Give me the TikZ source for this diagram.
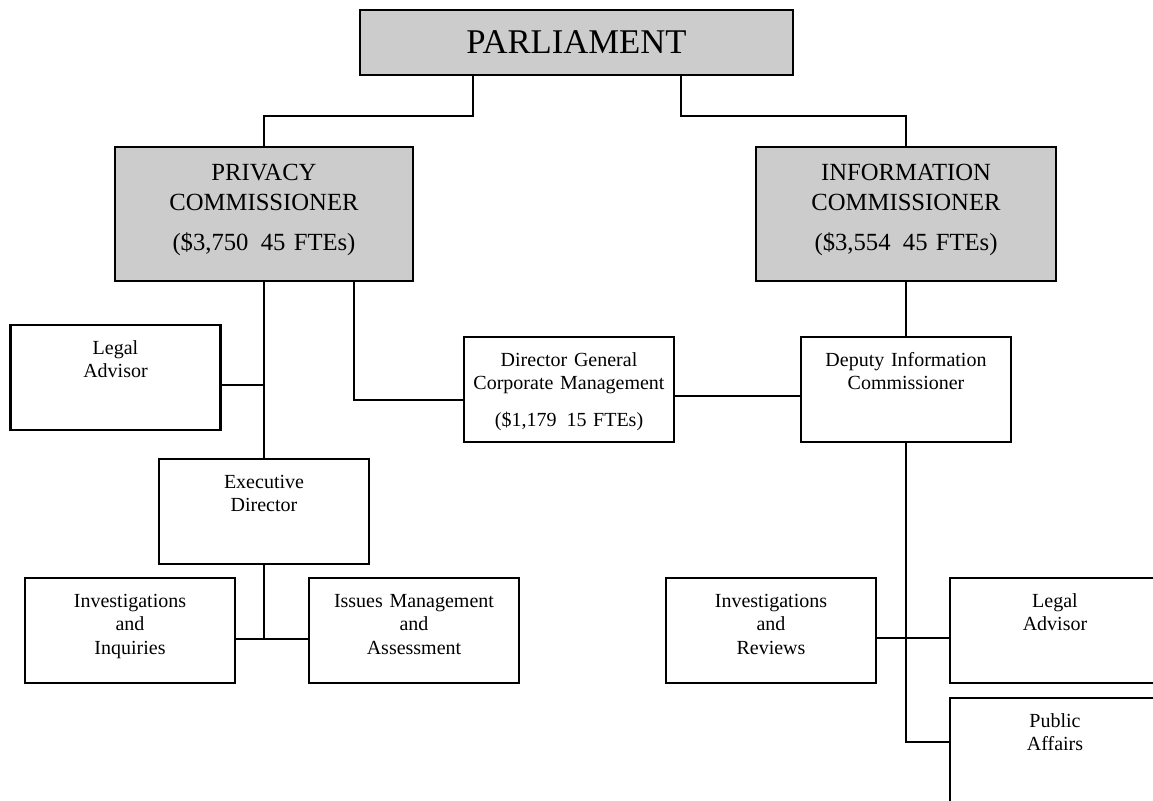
\documentclass[tikz,border=0pt]{standalone}
\usepackage{fontspec}
\setmainfont{Liberation Serif}
\begin{document}
\begin{tikzpicture}[x=0.75pt,y=-0.75pt,line join=miter,
  headbox/.style={draw,fill=black!20,line width=1.6pt,inner sep=0pt,text width=#1,align=center,
    font=\fontsize{18.5}{22.5}\selectfont,text height=24.75pt,text depth=75.75pt},
  officebox/.style={draw,line width=1.6pt,inner sep=0pt,text width=157.5pt,align=center,
    font=\fontsize{15}{17.6}\selectfont,text height=22pt,text depth=56.75pt},
  orgline/.style={line width=1.4pt}]
\useasboundingbox (0,0) rectangle (1153,800);
% top level
\node[draw,fill=black!20,line width=1.6pt,inner sep=0pt,minimum width=324.75pt,minimum height=48.75pt,
  font=\fontsize{26}{30}\selectfont] (parl) at (576.5,42.5) {PARLIAMENT};
\node[headbox=223.5pt] (priv) at (264,214) {PRIVACY\\COMMISSIONER\\[7.5pt](\$3,750\hspace{0.5em}45 FTEs)};
\node[headbox=225pt] (info) at (906,214) {INFORMATION\\COMMISSIONER\\[7.5pt](\$3,554\hspace{0.5em}45 FTEs)};
% privacy side
\node[officebox] (legL) at (115.5,377.5) {Legal\\Advisor};
\node[officebox] (exec) at (264,511.5) {Executive\\Director};
\node[officebox] (invI) at (130,630.5) {Investigations\\and\\Inquiries};
\node[officebox] (issues) at (414,630.5) {Issues Management\\and\\Assessment};
% shared and information side
\node[officebox] (dg) at (569,389.5) {Director General\\Corporate Management\\[10pt](\$1,179\hspace{0.5em}15 FTEs)};
\node[officebox] (dep) at (906,389.5) {Deputy Information\\Commissioner};
\node[officebox] (invR) at (771,630.5) {Investigations\\and\\Reviews};
\node[officebox] (legR) at (1055,630.5) {Legal\\Advisor};
\node[officebox] (pub) at (1055,750.5) {Public\\Affairs};
% connectors
\coordinate (parlL) at (473,75);
\coordinate (parlR) at (681,75);
\draw[orgline] (parlL) -- ++(0,41) -| (priv.north);
\draw[orgline] (parlR) -- ++(0,41) -| (info.north);
\draw[orgline] (priv.south) -- (exec.north);
\draw[orgline] (legL.east |- 0,385) -- (priv.south |- 0,385);
\draw[orgline] (priv.south -| 354,0) |- (dg.west |- 0,400);
\draw[orgline] (dg.east |- 0,396) -- (dep.west |- 0,396);
\draw[orgline] (info.south) -- (dep.north);
\draw[orgline] (exec.south) -- (exec.south |- 0,639);
\draw[orgline] (invI.east |- 0,639) -- (issues.west |- 0,639);
\draw[orgline] (dep.south) |- (pub.west |- 0,742);
\draw[orgline] (invR.east |- 0,638) -- (legR.west |- 0,638);
\end{tikzpicture}
\end{document}
